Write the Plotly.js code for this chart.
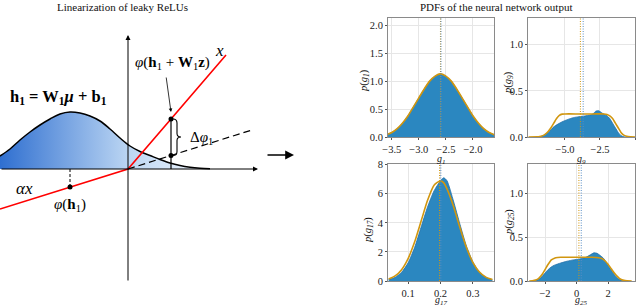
<!DOCTYPE html>
<html><head><meta charset="utf-8">
<script src="https://cdn.plot.ly/plotly-3.0.1.min.js"></script>
<style>html,body{margin:0;padding:0;background:#fff}</style>
</head><body><div id="chart" style="width:640px;height:308px"></div>
<script>
// ---------- PDF panels ----------
const g1X      = [-3.6,-3.5,-3.4,-3.3,-3.2,-3.1,-3.0,-2.9,-2.8,-2.7,-2.6,-2.5,-2.4,-2.3,-2.2,-2.1,-2.0,-1.9,-1.8,-1.7,-1.6];
const g1Blue   = [0.04,0.08,0.15,0.25,0.38,0.54,0.70,0.86,1.00,1.09,1.13,1.09,1.00,0.86,0.70,0.54,0.38,0.25,0.15,0.08,0.04];
const g1Orange = [0.04,0.08,0.15,0.25,0.38,0.54,0.70,0.86,1.00,1.09,1.13,1.09,1.00,0.86,0.70,0.54,0.38,0.25,0.15,0.08,0.04];
const g1Means  = [-2.6, -2.59];

const g9BlueX   = [-7.0,-6.8,-6.5,-6.2,-6.0,-5.8,-5.5,-5.2,-4.8,-4.4,-4.0,-3.6,-3.2,-3.0,-2.8,-2.6,-2.4,-2.2,-2.0,-1.8,-1.6,-1.4,-1.2,-1.0,-0.8,-0.6];
const g9Blue    = [0,0.003,0.02,0.05,0.08,0.11,0.14,0.165,0.19,0.21,0.22,0.228,0.238,0.25,0.28,0.285,0.265,0.245,0.23,0.2,0.15,0.1,0.05,0.015,0.003,0];
const g9OrangeX = [-7.6,-7.0,-6.8,-6.5,-6.2,-6.0,-5.8,-5.6,-5.4,-5.2,-5.0,-4.0,-3.0,-2.2,-2.0,-1.8,-1.6,-1.4,-1.2,-1.0,-0.8,-0.5,0.0];
const g9Orange  = [0,0.001,0.005,0.02,0.06,0.10,0.15,0.20,0.235,0.248,0.25,0.25,0.25,0.25,0.245,0.23,0.20,0.15,0.10,0.05,0.02,0.005,0];
const g9Means   = [-3.9, -3.7];

const g17X      = [0.04,0.06,0.08,0.10,0.12,0.14,0.16,0.18,0.20,0.21,0.22,0.24,0.26,0.28,0.30,0.32,0.34,0.36];
const g17Blue   = [0.1,0.25,0.6,1.25,2.3,3.7,5.1,6.2,6.9,7.1,6.9,5.5,3.9,2.4,1.3,0.62,0.25,0.09];
const g17Orange = [0.135,0.35,0.78,1.54,2.68,4.11,5.55,6.59,6.9,6.75,6.34,5.14,3.66,2.30,1.27,0.62,0.265,0.10];
const g17Means  = [0.197, 0.201];

const g25BlueX   = [-2.8,-2.6,-2.4,-2.2,-2.0,-1.8,-1.6,-1.4,-1.0,-0.6,-0.2,0.2,0.6,0.9,1.1,1.3,1.5,1.7,1.9,2.1,2.3,2.5,2.7,2.9,3.1];
const g25Blue    = [0,0.005,0.02,0.05,0.09,0.13,0.16,0.18,0.205,0.225,0.24,0.25,0.27,0.30,0.32,0.315,0.29,0.26,0.21,0.15,0.10,0.05,0.02,0.005,0];
const g25OrangeX = [-3.0,-2.8,-2.6,-2.4,-2.2,-2.0,-1.8,-1.6,-1.4,-1.2,-1.0,0.0,1.0,1.4,1.6,1.8,2.0,2.2,2.4,2.6,2.8,3.0,3.2,3.5];
const g25Orange  = [0,0.003,0.01,0.03,0.07,0.13,0.19,0.24,0.26,0.268,0.27,0.27,0.27,0.265,0.255,0.23,0.19,0.14,0.09,0.05,0.02,0.007,0.002,0];
const g25Means   = [0.15, 0.3];

const panelLabels = ['g<sub>1</sub>','g<sub>9</sub>','g<sub>17</sub>','g<sub>25</sub>'];

// ---------- leaky ReLU schematic (units relative to the origin) ----------
const gaussX = [-128,-118,-108,-98,-88,-78,-68,-58,-48,-38,-28,-18,-8,2,12,22,32,42,52,62,72,82];
const gaussY = [13,20,29,37,44,50,55,57,56,53,48,40,31,23,17.5,13.5,9.5,6,3.5,1.8,0.8,0.3];
const reluX  = [-128, 0, 98];
const reluY  = [-40, 0, 114];
const linX   = [0, 124];
const linY   = [0, 39];
const pointX = [43, 43, -58];
const pointY = [50, 13.5, -18.1];

const BLUE = '#2b87c0', ORANGE = '#d1960f';
const SERIF = '"Liberation Serif", "Times New Roman", serif';

const traces = [];
function panel(ax, bx, by, ox, oy, means){
  const xa = 'x'+ax, ya = 'y'+ax;
  traces.push({x:bx, y:by, xaxis:xa, yaxis:ya, type:'scatter', mode:'lines', fill:'tozeroy',
    fillcolor:BLUE, line:{color:'#1f6fa8', width:0.8, shape:'spline', smoothing:0.6}, hoverinfo:'skip'});
  traces.push({x:ox, y:oy, xaxis:xa, yaxis:ya, type:'scatter', mode:'lines',
    line:{color:ORANGE, width:1.6, shape:'spline', smoothing:0.6}, hoverinfo:'skip'});
  traces.push({x:[means[0],means[0]], y:[0,100], xaxis:xa, yaxis:ya, type:'scatter', mode:'lines',
    line:{color:ORANGE, width:1, dash:'1px,1.5px'}, hoverinfo:'skip'});
  traces.push({x:[means[1],means[1]], y:[0,100], xaxis:xa, yaxis:ya, type:'scatter', mode:'lines',
    line:{color:'#5a8fc4', width:1, dash:'1px,1.5px'}, hoverinfo:'skip'});
}
panel(1, g1X, g1Blue, g1X, g1Orange, g1Means);
panel(2, g9BlueX, g9Blue, g9OrangeX, g9Orange, g9Means);
panel(3, g17X, g17Blue, g17X, g17Orange, g17Means);
panel(4, g25BlueX, g25Blue, g25OrangeX, g25Orange, g25Means);

// schematic
traces.push({x:gaussX, y:gaussY, xaxis:'x5', yaxis:'y5', type:'scatter', mode:'lines', fill:'tozeroy',
  fillgradient:{type:'horizontal', colorscale:[[0,'#2f6fd0'],[0.62,'#bcd6f3'],[1,'#f2f7fd']], start:-128, stop:80},
  line:{color:'#000', width:1.5, shape:'spline'}, hoverinfo:'skip'});
traces.push({x:reluX, y:reluY, xaxis:'x5', yaxis:'y5', type:'scatter', mode:'lines',
  line:{color:'#ff0000', width:1.6}, hoverinfo:'skip'});
traces.push({x:linX, y:linY, xaxis:'x5', yaxis:'y5', type:'scatter', mode:'lines',
  line:{color:'#000', width:1.2, dash:'7px,4px'}, hoverinfo:'skip'});
traces.push({x:[pointX[0],pointX[0]], y:[0,pointY[0]], xaxis:'x5', yaxis:'y5', type:'scatter', mode:'lines',
  line:{color:'#000', width:1.2}, hoverinfo:'skip'});
traces.push({x:[pointX[2],pointX[2]], y:[0,pointY[2]], xaxis:'x5', yaxis:'y5', type:'scatter', mode:'lines',
  line:{color:'#000', width:1, dash:'3px,2px'}, hoverinfo:'skip'});
traces.push({x:pointX, y:pointY, xaxis:'x5', yaxis:'y5', type:'scatter', mode:'markers',
  marker:{color:'#000', size:5}, hoverinfo:'skip'});

function axis(dom, range, tickvals, ticktext, anchor){
  return {domain:dom, range:range, anchor:anchor, tickvals:tickvals, ticktext:ticktext,
    showline:true, mirror:true, linecolor:'#8a8a8a', linewidth:1, showgrid:true, gridcolor:'#e6e6e6',
    ticks:'outside', ticklen:2, tickcolor:'#555', zeroline:false,
    tickfont:{family:SERIF, size:10.5, color:'#222'}, fixedrange:true};
}
const W=640, H=308;
const px = v => v/W, py = v => 1 - v/H;
const colL=[px(388),px(494)], colR=[px(528),px(635)];
const rowT=[py(137),py(18)], rowB=[py(281),py(164)];

const ann = [];
function txt(x,y,text,size,opts){ann.push(Object.assign({x:x,y:y,xref:'paper',yref:'paper',text:text,showarrow:false,
  font:{family:SERIF,size:size,color:'#111'},xanchor:'center',yanchor:'middle'},opts||{}));}
txt(px(122),py(7),'Linearization of leaky ReLUs',11);
txt(px(496),py(7),'PDFs of the neural network output',11);
// panel x labels
txt(px(441),py(159),'<i>'+panelLabels[0]+'</i>',10,{borderpad:0});
txt(px(581),py(159),'<i>'+panelLabels[1]+'</i>',10,{borderpad:0});
txt(px(441),0,'<i>'+panelLabels[2]+'</i>',10,{yanchor:'bottom',borderpad:0});
txt(px(581),0,'<i>'+panelLabels[3]+'</i>',10,{yanchor:'bottom',borderpad:0});
// panel y labels
txt(px(364),py(81),'<i>p</i>(<i>'+panelLabels[0]+'</i>)',10.5,{textangle:-90});
txt(px(509),py(83),'<i>p</i>(<i>'+panelLabels[1]+'</i>)',10.5,{textangle:-90});
txt(px(368),py(230),'<i>p</i>(<i>'+panelLabels[2]+'</i>)',10.5,{textangle:-90});
txt(px(509),py(222),'<i>p</i>(<i>'+panelLabels[3]+'</i>)',10.5,{textangle:-90});
// big arrow
ann.push({x:px(294),y:py(155),xref:'paper',yref:'paper',ax:-28,ay:0,showarrow:true,arrowhead:2,arrowsize:1.1,arrowwidth:1.6,arrowcolor:'#000',text:''});

// schematic annotations
function dtxt(x,y,text,size,opts){ann.push(Object.assign({x:x,y:y,xref:'x5',yref:'y5',text:text,showarrow:false,
  font:{family:SERIF,size:size,color:'#000'},xanchor:'center',yanchor:'middle'},opts||{}));}
ann.push({x:130,y:0,ax:-128,ay:0,xref:'x5',yref:'y5',axref:'x5',ayref:'y5',showarrow:true,arrowhead:2,arrowsize:1,arrowwidth:1,arrowcolor:'#000',text:''});
ann.push({x:0,y:134,ax:0,ay:-113,xref:'x5',yref:'y5',axref:'x5',ayref:'y5',showarrow:true,arrowhead:2,arrowsize:1,arrowwidth:1,arrowcolor:'#000',text:''});
ann.push({x:43,y:57,ax:38,ay:93,xref:'x5',yref:'y5',axref:'x5',ayref:'y5',showarrow:true,arrowhead:2,arrowsize:0.9,arrowwidth:0.8,arrowcolor:'#000',text:''});
dtxt(91,119,'<i>x</i>',17);
dtxt(44,106,'<i>φ</i>(<b>h</b><sub>1</sub> + <b>W</b><sub>1</sub><b>z</b>)',15);
dtxt(-70,72,'<b>h<sub>1</sub> = W<sub>1</sub><i>μ</i> + b<sub>1</sub></b>',16.5);
dtxt(73,31,'Δ<i>φ</i><sub>1</sub>',15);
dtxt(-104,-19,'<i>αx</i>',17);
dtxt(-58,-36,'<i>φ</i>(<b>h</b><sub>1</sub>)',15);

const shapes = [{type:'path', xref:'x5', yref:'y5',
  path:'M 45,50 Q 49,50 49,46 L 49,35.5 Q 49,32 53,32 Q 49,32 49,28.5 L 49,17.5 Q 49,13.5 45,13.5',
  line:{color:'#000', width:1.1}}];

const layout = {
  width:W, height:H, margin:{l:0,r:0,t:0,b:0}, showlegend:false,
  paper_bgcolor:'#fff', plot_bgcolor:'#fff',
  xaxis: axis(colL,[-3.57,-1.61],[-3.5,-3.0,-2.5,-2.0],['−3.5','−3.0','−2.5','−2.0'],'y'),
  yaxis: axis(rowT,[0,2.13],[0,0.5,1,1.5,2],['0.0','0.5','1.0','1.5','2.0'],'x'),
  xaxis2: axis(colR,[-7.64,0.0],[-5,-2.5,0],['−5.0','−2.5','0.0'],'y2'),
  yaxis2: axis(rowT,[0,1.29],[0,0.5,1],['0.0','0.5','1.0'],'x2'),
  xaxis3: axis(colL,[0.038,0.365],[0.1,0.2,0.3],['0.1','0.2','0.3'],'y3'),
  yaxis3: axis(rowB,[0,8.05],[0,2,4,6,8],['0','2','4','6','8'],'x3'),
  xaxis4: axis(colR,[-3.08,3.71],[-2,0,2],['−2','0','2'],'y4'),
  yaxis4: axis(rowB,[0,1.33],[0,0.5,1],['0.0','0.5','1.0'],'x4'),
  xaxis5: {domain:[0,260/W], range:[-128,132], anchor:'y5', visible:false, fixedrange:true},
  yaxis5: {domain:[py(300),py(20)], range:[-131,149], anchor:'x5', visible:false, fixedrange:true},
  annotations: ann, shapes: shapes
};
Plotly.newPlot('chart', traces, layout, {staticPlot:true, displayModeBar:false});
</script></body></html>
